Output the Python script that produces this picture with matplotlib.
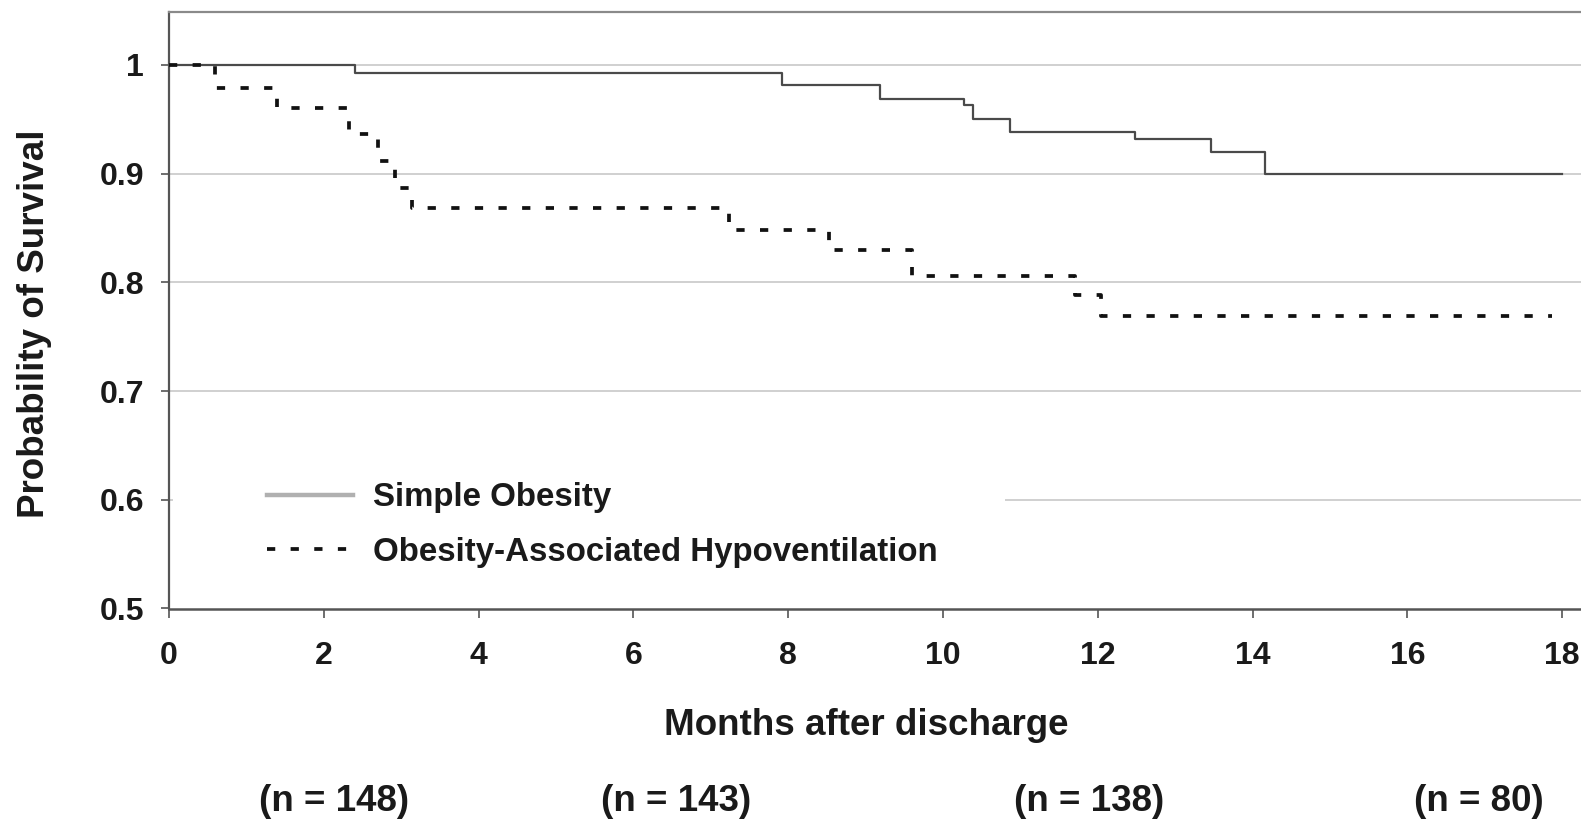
import numpy as np
import matplotlib.pyplot as plt
from matplotlib.lines import Line2D
from matplotlib.patches import Rectangle

plt.rcParams['font.family'] = ['Liberation Sans', 'DejaVu Sans']
plt.rcParams['font.weight'] = 'bold'

# Kaplan-Meier steps (months, survival probability)
simple_t = [0, 2.40, 7.92, 9.19, 10.27, 10.39, 10.87, 12.48, 13.46, 14.16, 18.0]
simple_s = [1.0, 0.9926, 0.9819, 0.969, 0.963, 0.9506, 0.9384, 0.9322, 0.9196, 0.900, 0.900]

hypo_t = [0, 0.60, 1.40, 2.33, 2.70, 2.92, 3.14, 7.24, 8.53, 9.60, 11.71, 12.04, 17.87]
hypo_s = [1.0, 0.979, 0.960, 0.9365, 0.912, 0.887, 0.868, 0.848, 0.830, 0.806, 0.788, 0.769, 0.769]

x_ticks = list(range(0, 19, 2))
y_ticks = [0.5, 0.6, 0.7, 0.8, 0.9, 1.0]
y_tick_labels = ['0.5', '0.6', '0.7', '0.8', '0.9', '1']
n_labels = ['(n = 148)', '(n = 143)', '(n = 138)', '(n = 80)']
series_names = ['Simple Obesity', 'Obesity-Associated Hypoventilation']

W, H = 1581, 821
fig = plt.figure(figsize=(W / 100, H / 100), dpi=100)
ax = fig.add_axes([169 / W, (H - 608.5) / H, (W - 169) / W, 596.5 / H])
ax.set_xlim(0, (W - 169) / 77.4)
ax.set_ylim(0.5, 0.5 + 596.5 / 1087)

# grid
for v in y_ticks[1:]:
    ax.axhline(v, color='#c4c4c4', lw=1.1, zorder=0.5)
# legend background hides the 0.6 gridline
ax.add_patch(Rectangle((0.003, 0.11), 0.589, 0.21, transform=ax.transAxes,
                       facecolor='white', edgecolor='none', zorder=1))

ax.step(simple_t, simple_s, where='post', color='#4a4a4a', lw=1.6, zorder=3)
ax.step(hypo_t, hypo_s, where='post', color='#111111', lw=2.7,
        dashes=(2.2, 4.1), zorder=3)

ax.set_xticks(x_ticks)
ax.set_yticks(y_ticks)
ax.set_yticklabels(y_tick_labels)
ax.tick_params(axis='x', direction='out', length=6.5, width=1.2, color='#555555',
               pad=17, labelsize=23, labelcolor='#1a1a1a')
ax.tick_params(axis='y', direction='out', length=6, width=1.2, color='#555555',
               pad=12, labelsize=23, labelcolor='#1a1a1a')

ax.spines['right'].set_visible(False)
ax.spines['left'].set_color('#555555')
ax.spines['left'].set_linewidth(1.6)
ax.spines['bottom'].set_color('#555555')
ax.spines['bottom'].set_linewidth(1.8)
ax.spines['top'].set_color('#8a8a8a')
ax.spines['top'].set_linewidth(1.6)

handles = [Line2D([], [], color='#b0b0b0', lw=3.2),
           Line2D([], [], color='#111111', lw=2.7, dashes=(2.2, 4.1))]
leg = ax.legend(handles, series_names, loc='center left',
                bbox_to_anchor=((267 - 169) / (W - 169), (608.5 - 525) / 596.5),
                frameon=False, fontsize=23.8, borderpad=0, borderaxespad=0,
                handlelength=2.6, handletextpad=0.6, labelspacing=0.72)
for t in leg.get_texts():
    t.set_color('#1a1a1a')

fig.text(35 / W, (H - 324) / H, 'Probability of Survival', rotation=90,
         ha='center', va='center', fontsize=26.5, color='#1a1a1a')
fig.text(866.5 / W, (H - 735) / H, 'Months after discharge', ha='center',
         va='baseline', fontsize=26.5, color='#1a1a1a')

n_x = [334, 676, 1089, 1479]
for lab, px in zip(n_labels, n_x):
    fig.text(px / W, (H - 811) / H, lab, ha='center', va='baseline',
             fontsize=26.5, color='#1a1a1a')

fig.savefig('out.png', dpi=100)
